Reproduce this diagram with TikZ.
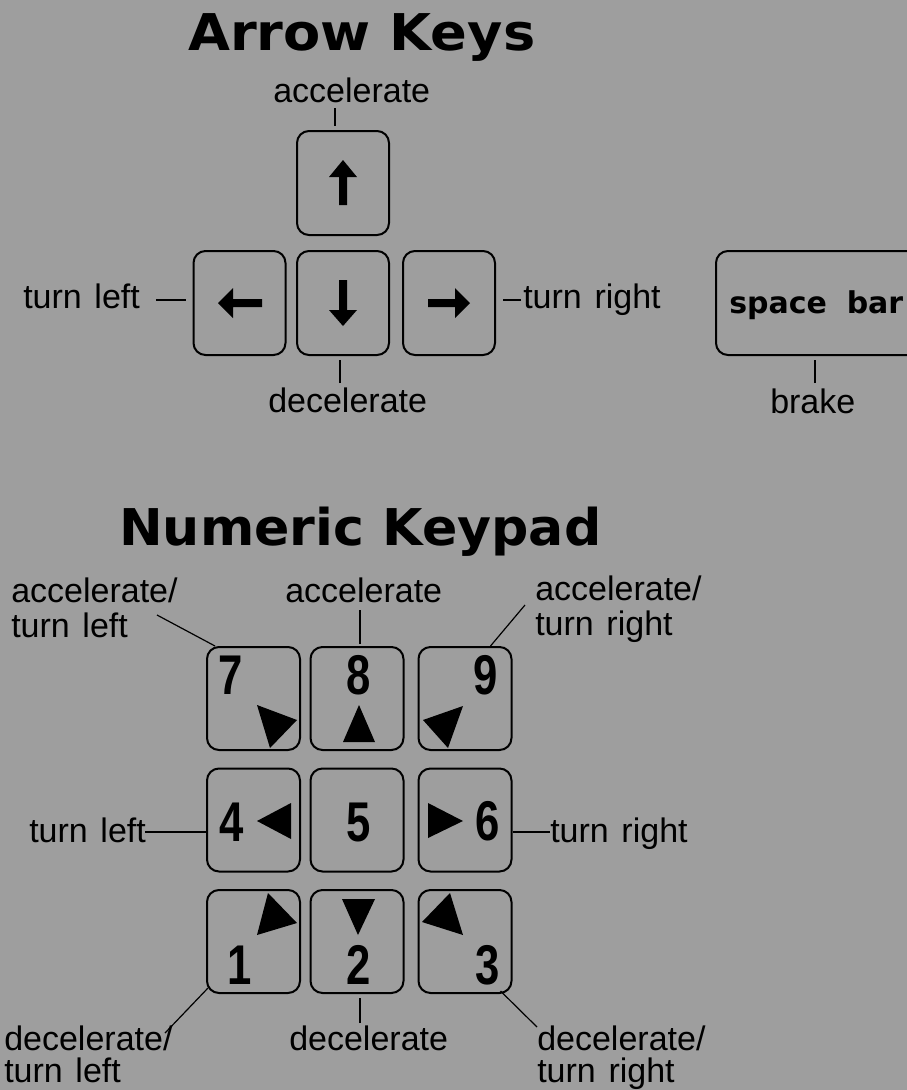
\documentclass[tikz,border=0pt]{standalone}
\usepackage{fontspec}
\setmainfont{Liberation Sans}
\newfontfamily\titlefont{DejaVu Sans}
\usetikzlibrary{calc}
\definecolor{bggray}{RGB}{158,158,158}
\newcommand\lblfont{\fontsize{25.5}{30}\selectfont\spaceskip=9.5pt\relax}
\begin{document}
\begin{tikzpicture}[x=0.75pt,y=-0.75pt,
  key/.style={draw=black, line width=1.5pt, rounded corners=9pt, minimum width=69pt, minimum height=78pt, inner sep=0pt},
  kp/.style={draw=black, line width=1.5pt, rounded corners=9pt, minimum width=69.75pt, minimum height=77.25pt, inner sep=0pt},
  lbl/.style={font=\lblfont, inner sep=0pt, anchor=base west},
  ttl/.style={font=\titlefont\bfseries\fontsize{38}{40}\selectfont, inner sep=0pt, anchor=base west},
  dig/.style={font=\bfseries\fontsize{42}{44}\selectfont, inner sep=0pt, xscale=0.78},
  conn/.style={draw=black, line width=0.9pt},
  glyph/.style={fill=black}]
\useasboundingbox (0,0) rectangle (907,1090);
\clip (0,0) rectangle (907,1090);
\fill[bggray] (0,0) rectangle (907,1090);

% ---------- Arrow keys ----------
\node[ttl, xscale=1.07] (t1) at (188,50) {Arrow Keys};

\node[key, minimum height=78pt] (kup) at (343,183) {};
\node[key] (kleft) at (239.5,303) {};
\node[key] (kdown) at (343,303) {};
\node[key] (kright) at (449,303) {};
\node[key, minimum width=198pt] (kspace) at (848,303) {};

\fill[glyph] (339,205)--(347,205)--(347,177)--(357,177)--(343,160)--(329,177)--(339,177)--cycle;
\fill[glyph] (339,280)--(347,280)--(347,310)--(357,310)--(343,326)--(329,310)--(339,310)--cycle;
\fill[glyph] (262,299)--(262,307)--(233,307)--(233,318)--(218,303)--(233,288)--(233,299)--cycle;
\fill[glyph] (428,299)--(428,307)--(455,307)--(455,318)--(470,303)--(455,288)--(455,299)--cycle;

\node[inner sep=0pt, anchor=base west, font=\titlefont\bfseries\fontsize{22.5}{24}\selectfont] (sb) at (729,313) {space\hspace{7pt} bar};

\node[lbl] (lacc) at (273,102) {accelerate};
\node[lbl] (ldec) at (268,412) {decelerate};
\node[lbl] (ltl) at (23,308) {turn left};
\node[lbl] (ltr) at (523,308) {turn right};
\node[lbl] (lbr) at (770,413) {brake};

\coordinate (aA) at (335,108);
\draw[conn, shorten >=3pt] (aA) -- (aA |- kup.north);
\coordinate (aD) at (340,383);
\draw[conn, shorten >=3pt] (aD) -- (aD |- kdown.south);
\coordinate (aL) at (156,300);
\draw[conn, shorten >=5pt] (aL) -- (aL -| kleft.west);
\coordinate (aR) at (521,300);
\draw[conn, shorten >=5pt] (aR) -- (aR -| kright.east);
\coordinate (aB) at (815,383);
\draw[conn, shorten >=3pt] (aB) -- (aB |- kspace.south);

% ---------- Numeric keypad ----------
\node[ttl, xscale=1.03] (t2) at (119,545) {Numeric Keypad};

\node[kp] (k7) at (253.5,698.5) {};
\node[kp] (k8) at (357,698.5) {};
\node[kp] (k9) at (465,698.5) {};
\node[kp] (k4) at (253.5,820) {};
\node[kp] (k5) at (357,820) {};
\node[kp] (k6) at (465,820) {};
\node[kp] (k1) at (253.5,941.5) {};
\node[kp] (k2) at (357,941.5) {};
\node[kp] (k3) at (465,941.5) {};

\node[dig] (d7) at (231,675) {7};
\node[dig] (d8) at (358.5,675) {8};
\node[dig] (d9) at (486,675) {9};
\node[dig] (d4) at (231.5,822) {4};
\node[dig] (d5) at (358.5,822) {5};
\node[dig] (d6) at (487.5,821) {6};
\node[dig] (d1) at (240,965) {1};
\node[dig] (d2) at (358.5,965) {2};
\node[dig] (d3) at (487.5,965) {3};

\fill[glyph] (257,705)--(297,720)--(270,748)--cycle;
\fill[glyph] (343,742)--(375,742)--(359,705)--cycle;
\fill[glyph] (423,720)--(463,706)--(448,748)--cycle;
\fill[glyph] (257,821)--(291,803)--(291,839)--cycle;
\fill[glyph] (428,803)--(428,838)--(463,821)--cycle;
\fill[glyph] (268,893)--(297,923)--(257,935)--cycle;
\fill[glyph] (342,899)--(375,899)--(358,935)--cycle;
\fill[glyph] (422,922)--(450,893)--(463,935)--cycle;

\node[lbl] (n7a) at (11,602) {accelerate/};
\node[lbl] (n7b) at (11,637) {turn left};
\node[lbl] (n8) at (285,602) {accelerate};
\node[lbl] (n9a) at (535,600) {accelerate/};
\node[lbl] (n9b) at (535,635) {turn right};
\node[lbl] (n4) at (29,842) {turn left};
\node[lbl] (n6) at (550,842) {turn right};
\node[lbl] (n1a) at (4,1050) {decelerate/};
\node[lbl] (n1b) at (4,1082) {turn left};
\node[lbl] (n2) at (289,1050) {decelerate};
\node[lbl] (n3a) at (537,1050) {decelerate/};
\node[lbl] (n3b) at (537,1082) {turn right};

\coordinate (e7) at (157,615);
\draw[conn] (e7) -- ($(k7.north west)+(9,0)$);
\coordinate (e8) at (360,610);
\draw[conn, shorten >=1.5pt] (e8) -- (e8 |- k8.north);
\coordinate (e9) at (525,605);
\draw[conn] (e9) -- ($(k9.north east)+(-22,0)$);
\coordinate (e4) at (145,832);
\draw[conn] (e4) -- (e4 -| k4.west);
\coordinate (e6) at (550,832);
\draw[conn] (e6) -- (e6 -| k6.east);
\coordinate (e1) at (165,1033);
\draw[conn] (e1) -- ($(k1.south west)+(2,-6)$);
\coordinate (e2) at (360,1023);
\draw[conn, shorten >=3pt] (e2) -- (e2 |- k2.south);
\coordinate (e3) at (537,1027);
\draw[conn] (e3) -- ($(k3.south east)+(-12,-3)$);
\end{tikzpicture}
\end{document}
